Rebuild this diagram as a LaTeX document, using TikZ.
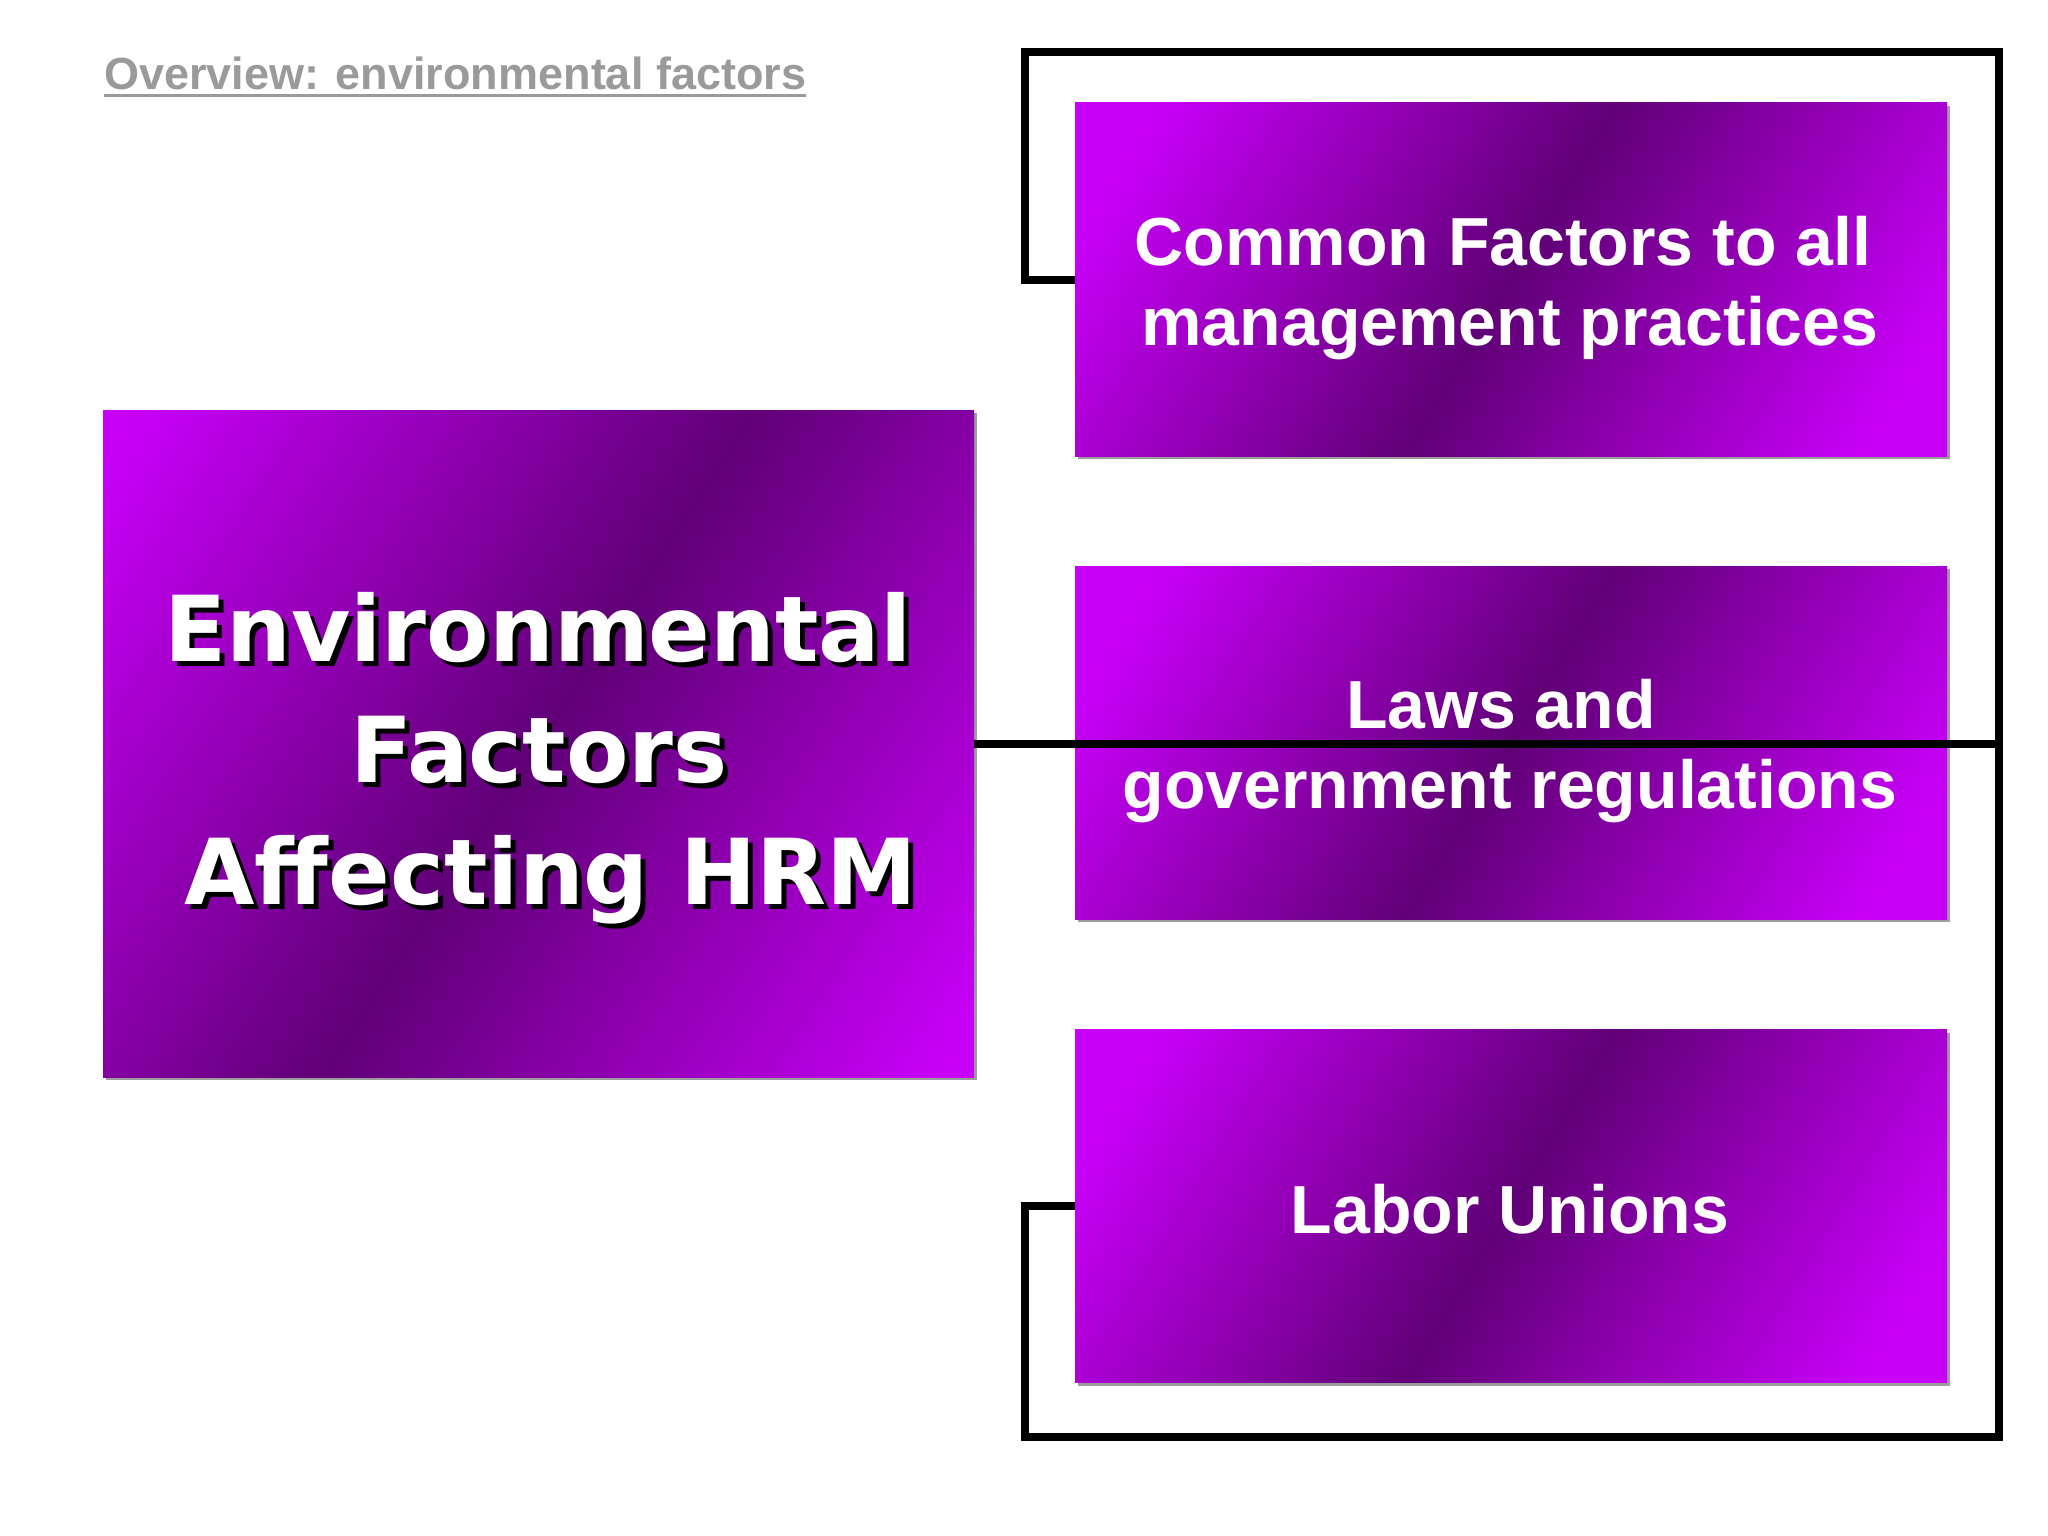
\documentclass[tikz,border=0pt]{standalone}
\usepackage{fontspec}
\setmainfont{Liberation Sans}
\newfontfamily\dvs{DejaVu Sans}
\usetikzlibrary{shadows}
\definecolor{pbright}{HTML}{C800F8}
\definecolor{pdark}{HTML}{600076}
\definecolor{titlegray}{HTML}{9A9A9A}
\definecolor{boxshadow}{HTML}{9C9C9C}
\pgfdeclarehorizontalshading{rshade}{100bp}{color(0bp)=(pbright); color(21bp)=(pbright); color(50bp)=(pdark); color(79bp)=(pbright); color(100bp)=(pbright)}
\pgfdeclarehorizontalshading{lshade}{100bp}{color(0bp)=(pbright); color(17bp)=(pbright); color(50bp)=(pdark); color(83bp)=(pbright); color(100bp)=(pbright)}
\newcommand\shtext[1]{\rlap{\kern5pt\raisebox{-5pt}{\textcolor{black}{#1}}}#1}
\begin{document}
\begin{tikzpicture}[x=1pt,y=-1pt,
  boxshadowstyle/.style={drop shadow={shadow xshift=3pt, shadow yshift=-3pt, fill=boxshadow, opacity=1}},
  rbox/.style={rectangle, inner sep=0pt, minimum width=872pt, minimum height=353pt, shading=rshade, shading angle=-31, boxshadowstyle},
  lbox/.style={rectangle, inner sep=0pt, minimum width=871pt, minimum height=667pt, shading=lshade, shading angle=-33, boxshadowstyle},
  rtext/.style={anchor=base, text=white, inner sep=0pt, font=\fontsize{68}{80}\selectfont\bfseries},
  ltext/.style={anchor=base, inner sep=0pt, text=white, font=\dvs\fontsize{91}{110}\selectfont\bfseries},
  link/.style={line width=8pt, line join=miter, draw=black}
]
\useasboundingbox[fill=white] (0,0) rectangle (2048,1536);

% title
\node[anchor=base west, inner sep=0pt, text=titlegray, font=\fontsize{45}{54}\selectfont\bfseries] (title) at (104,90) {Overview: environmental factors};
\draw[titlegray, line width=3pt] ([yshift=-6pt]title.base west) -- ([yshift=-6pt]title.base east);

% boxes
\node[lbox] (envbox) at (538.5,743.5) {};
\node[rbox] (common) at (1511,279.5) {};
\node[rbox] (laws) at (1511,742.5) {};
\node[rbox] (labor) at (1511,1206) {};

% connectors
\coordinate (lt) at (1025,52);
\coordinate (rt) at (1999,52);
\coordinate (rb) at (1999,1437);
\coordinate (lb) at (1025,1437);
\draw[link] (common.west) -- (common.west -| lt) -- (lt) -- (rt) -- (rb) -- (lb) -- (labor.west -| lb) -- (labor.west);
\draw[link] (envbox.east) -- (envbox.east -| rt);

% left box text with shadow
\node[ltext] (env1) at (538,661) {\shtext{Environmental}};
\node[ltext] (env2) at (539,782) {\shtext{Factors}};
\node[ltext] (env3) at (551,904) {\shtext{Affecting HRM}};

% right box texts
\node[rtext] (common1) at (1503,265) {Common Factors to all};
\node[rtext] (common2) at (1510,345) {management practices};
\node[rtext] (laws1) at (1501,728) {Laws and};
\node[rtext] (laws2) at (1510,808) {government regulations};
\node[rtext] (labor1) at (1510,1233) {Labor Unions};
\end{tikzpicture}
\end{document}
